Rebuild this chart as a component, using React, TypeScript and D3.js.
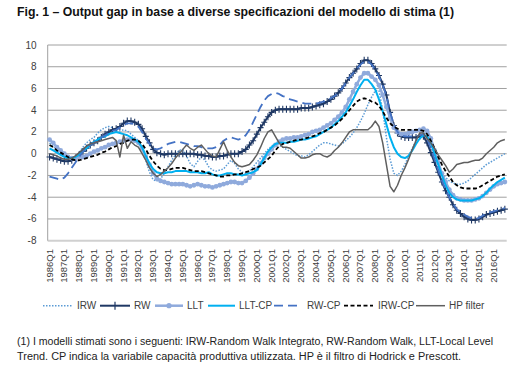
import React, { useEffect, useRef } from 'react';
import * as d3 from 'd3';

// Categories: quarterly, 1986Q1 - 2016Q4
const years = [1986, 1987, 1988, 1989, 1990, 1991, 1992, 1993, 1994, 1995, 1996, 1997, 1998, 1999, 2000, 2001,
  2002, 2003, 2004, 2005, 2006, 2007, 2008, 2009, 2010, 2011, 2012, 2013, 2014, 2015, 2016];
const quarterNames = ['Q1', 'Q2', 'Q3', 'Q4'];
const yTicks = [-8, -6, -4, -2, 0, 2, 4, 6, 8, 10];

// Series values (4 per year)
const irw = [
  1.0, 0.7, 0.3, 0.0, -0.3, -0.5, -0.5, -0.3,
  0.1, 0.6, 1.0, 1.3, 1.5, 1.9, 2.2, 2.4,
  2.5, 2.4, 2.2, 2.1, 2.2, 2.1, 1.8, 1.5,
  1.2, 0.5, -0.6, -1.7, -2.4, -2.5, -2.3, -1.8,
  -1.2, -0.6, -0.1, 0.3, 0.4, -0.2, -0.9, -1.2,
  -0.7, -0.3, -0.6, -1.2, -1.5, -1.6, -1.5, -1.4,
  -1.0, -0.6, -0.9, -1.4, -1.7, -1.8, -1.6, -1.2,
  -0.8, -0.4, 0.0, 0.4, 0.7, 0.9, 0.8, 0.6,
  0.4, 0.2, 0.0, -0.2, -0.2, -0.3, -0.1, 0.2,
  0.5, 0.8, 1.0, 1.0, 0.9, 0.8, 0.7, 0.9,
  1.2, 1.5, 1.9, 2.4, 3.0, 3.7, 4.5, 5.2,
  5.8, 5.8, 4.0, 1.5, -0.5, -1.8, -2.0, -1.6,
  -1.0, -0.2, 0.5, 1.2, 1.8, 2.0, 1.6, 0.8,
  -0.3, -1.2, -1.8, -2.2, -2.5, -2.7, -2.8, -2.8,
  -2.7, -2.5, -2.2, -1.9, -1.6, -1.3, -1.0, -0.8,
  -0.6, -0.4, -0.2, 0.0,
];
const rw = [
  -0.3, -0.4, -0.5, -0.6, -0.7, -0.7, -0.6, -0.4,
  -0.1, 0.2, 0.5, 0.8, 1.0, 1.2, 1.5, 1.8,
  2.0, 2.2, 2.3, 2.5, 2.8, 3.0, 3.0, 2.9,
  2.7, 2.3, 1.6, 1.0, 0.4, 0.1, 0.0, -0.1,
  0.0, 0.0, 0.0, 0.0, 0.0, 0.0, 0.0, 0.0,
  -0.1, -0.1, -0.2, -0.2, -0.3, -0.3, -0.2, -0.2,
  -0.1, 0.0, 0.0, 0.0, 0.2, 0.4, 0.8, 1.2,
  1.8, 2.4, 2.9, 3.4, 3.8, 4.0, 4.1, 4.1,
  4.1, 4.1, 4.1, 4.1, 4.2, 4.2, 4.2, 4.3,
  4.4, 4.5, 4.6, 4.8, 5.0, 5.3, 5.6, 6.0,
  6.5, 7.0, 7.4, 7.8, 8.3, 8.6, 8.6, 8.3,
  7.8, 7.2, 6.4, 5.4, 3.8, 2.6, 1.9, 1.6,
  1.5, 1.5, 1.5, 1.5, 1.6, 1.6, 1.0, 0.1,
  -0.8, -1.7, -2.6, -3.4, -4.0, -4.7, -5.2, -5.5,
  -5.8, -6.0, -6.1, -6.1, -6.0, -5.8, -5.6, -5.5,
  -5.4, -5.3, -5.2, -5.1,
];
const llt = [
  1.3, 1.0, 0.6, 0.3, 0.0, -0.3, -0.4, -0.4,
  -0.3, -0.3, -0.2, 0.0, 0.2, 0.3, 0.5, 0.6,
  0.8, 0.9, 1.0, 1.1, 1.2, 1.3, 1.3, 1.2,
  1.0, 0.5, -0.3, -1.0, -1.8, -2.3, -2.5, -2.6,
  -2.7, -2.8, -2.8, -2.8, -2.8, -2.9, -3.0, -2.9,
  -2.8, -2.9, -3.0, -3.0, -3.1, -3.0, -2.9, -2.8,
  -2.7, -2.6, -2.6, -2.7, -2.7, -2.5, -2.2, -1.8,
  -1.4, -0.9, -0.4, 0.0, 0.4, 0.8, 1.1, 1.3,
  1.4, 1.4, 1.5, 1.5, 1.6, 1.7, 1.8, 2.0,
  2.1, 2.2, 2.4, 2.6, 2.8, 3.1, 3.4, 3.8,
  4.3, 5.0, 5.7, 6.4, 7.0, 7.4, 7.4, 7.1,
  6.8, 6.3, 5.4, 4.3, 3.3, 2.4, 2.0, 1.8,
  1.8, 1.9, 2.0, 2.1, 2.2, 2.3, 2.1, 1.4,
  0.3, -0.8, -1.8, -2.6, -3.3, -3.8, -4.1, -4.2,
  -4.3, -4.3, -4.3, -4.2, -4.1, -3.9, -3.6, -3.3,
  -3.0, -2.8, -2.7, -2.6,
];
const lltCp = [
  0.5, 0.3, 0.1, -0.1, -0.3, -0.4, -0.4, -0.3,
  -0.1, 0.2, 0.5, 0.8, 1.1, 1.3, 1.5, 1.6,
  1.8, 1.9, 2.0, 1.9, 1.8, 1.7, 1.5, 1.3,
  1.1, 0.6, -0.2, -0.9, -1.4, -1.7, -1.8, -1.8,
  -1.7, -1.7, -1.6, -1.6, -1.6, -1.6, -1.7, -1.7,
  -1.7, -1.8, -1.8, -1.7, -1.9, -2.0, -2.0, -1.9,
  -1.8, -1.8, -1.9, -1.9, -2.0, -1.9, -1.8, -1.7,
  -1.5, -1.0, -0.4, 0.2, 0.6, 0.9, 1.0, 1.0,
  1.0, 1.1, 1.1, 1.2, 1.3, 1.3, 1.4, 1.5,
  1.6, 1.8, 2.0, 2.2, 2.4, 2.7, 3.0, 3.4,
  3.8, 4.4, 5.0, 5.7, 6.3, 6.8, 6.8, 6.4,
  5.9, 5.0, 3.9, 2.7, 1.5, 0.6, 0.0, -0.3,
  -0.4, -0.2, 0.3, 0.9, 1.4, 1.7, 1.6, 1.0,
  0.0, -1.0, -2.0, -2.9, -3.6, -4.0, -4.2, -4.3,
  -4.3, -4.3, -4.3, -4.2, -4.1, -3.9, -3.6, -3.2,
  -2.9, -2.6, -2.4, -2.2,
];
const rwCp = [
  -2.1, -2.2, -2.3, -2.4, -2.2, -1.8, -1.3, -0.8,
  -0.3, 0.2, 0.5, 0.8, 1.0, 1.2, 1.5, 1.7,
  1.9, 2.1, 2.2, 2.4, 2.6, 2.8, 2.8, 2.7,
  2.5, 2.0, 1.4, 0.9, 0.5, 0.4, 0.5, 0.7,
  0.9, 1.0, 1.1, 1.1, 1.0, 0.9, 0.8, 0.7,
  0.7, 0.6, 0.5, 0.5, 0.5, 0.6, 0.8, 1.2,
  1.4, 1.5, 1.4, 1.3, 1.4, 1.7, 2.2, 2.9,
  3.6, 4.3, 4.9, 5.3, 5.5, 5.6, 5.5, 5.3,
  5.2, 5.0, 4.9, 4.8, 4.7, 4.6, 4.6, 4.6,
  4.6, 4.7, 4.8, 4.9, 5.1, 5.3, 5.6, 6.0,
  6.5, 7.0, 7.4, 7.8, 8.2, 8.5, 8.5, 8.2,
  7.7, 7.1, 6.3, 5.3, 3.8, 2.7, 2.0, 1.7,
  1.6, 1.6, 1.6, 1.6, 1.7, 1.8, 1.4, 0.5,
  -0.5, -1.5, -2.5, -3.3, -4.0, -4.6, -5.1, -5.4,
  -5.6, -5.8, -5.9, -6.0, -5.9, -5.7, -5.5, -5.4,
  -5.3, -5.2, -5.1, -5.0,
];
const irwCp = [
  0.8, 0.6, 0.3, 0.1, -0.1, -0.3, -0.5, -0.6,
  -0.6, -0.5, -0.4, -0.3, -0.2, -0.1, 0.1, 0.2,
  0.4, 0.6, 0.7, 0.9, 1.0, 1.2, 1.3, 1.3,
  1.2, 0.9, 0.4, -0.2, -0.7, -1.1, -1.4, -1.5,
  -1.5, -1.4, -1.3, -1.3, -1.3, -1.4, -1.5, -1.6,
  -1.6, -1.6, -1.7, -1.8, -1.9, -2.0, -2.1, -2.1,
  -2.0, -2.0, -1.9, -1.9, -1.8, -1.7, -1.6, -1.4,
  -1.3, -1.1, -0.8, -0.5, -0.2, 0.3, 0.7, 0.9,
  1.0, 1.1, 1.2, 1.3, 1.3, 1.4, 1.5, 1.6,
  1.7, 1.9, 2.0, 2.2, 2.4, 2.6, 2.9, 3.2,
  3.6, 4.0, 4.4, 4.8, 5.0, 5.1, 5.0, 4.8,
  4.7, 4.4, 3.9, 3.3, 2.8, 2.5, 2.3, 2.2,
  2.2, 2.2, 2.2, 2.2, 2.2, 2.1, 1.8, 1.2,
  0.5, -0.3, -1.0, -1.6, -2.1, -2.6, -2.9, -3.1,
  -3.2, -3.2, -3.2, -3.2, -3.1, -2.9, -2.7, -2.5,
  -2.3, -2.1, -2.0, -1.9,
];
const hp = [
  0.0, -0.1, -0.2, -0.4, -0.5, -0.5, -0.4, -0.2,
  0.1, 0.4, 0.7, 0.9, 1.0, 1.1, 1.2, 1.3,
  1.4, 1.5, 1.2, -0.3, 1.7, 0.5, 1.1, 0.8,
  0.6, 0.0, -0.6, -1.3, -1.8, -2.1, -1.9, -1.6,
  -1.3, -0.9, -0.4, 0.0, 0.4, 0.8, 0.5, 0.3,
  0.6, 0.8, 0.4, 0.0, -0.2, -0.3, 0.4, 1.1,
  0.3, -0.3, -0.8, -1.1, -1.2, -1.1, -1.0, -0.6,
  -0.1, 0.6, 1.4, 2.0, 2.2, 1.6, 1.0, 0.6,
  0.6, 0.5, 0.2, -0.1, -0.4, -0.4, -0.3, -0.1,
  0.0, 0.0, -0.2, -0.3, -0.1, 0.3, 0.6, 1.0,
  1.5, 2.0, 2.2, 2.2, 2.2, 2.2, 2.2, 2.5,
  3.0, 2.5, 1.0, -1.0, -3.0, -3.5, -2.9, -2.0,
  -1.3, -0.5, 0.4, 1.2, 1.9, 1.9, 1.4, 1.0,
  0.5, -0.1, -0.6, -1.1, -1.7, -1.4, -1.0, -0.9,
  -0.8, -0.8, -0.7, -0.6, -0.6, -0.4, 0.0, 0.3,
  0.6, 1.0, 1.2, 1.3,
];

const seriesNames = ['IRW', 'RW', 'LLT', 'LLT-CP', 'RW-CP', 'IRW-CP', 'HP filter'];

const title = 'Fig. 1 \u2013 Output gap in base a diverse specificazioni del modello di stima (1)';
const noteLines = [
  '(1)  I modelli stimati sono i seguenti: IRW-Random Walk Integrato, RW-Random Walk, LLT-Local Level',
  'Trend. CP indica la variabile capacità produttiva utilizzata. HP è il filtro di Hodrick e Prescott.',
];

const App = () => {
  const ref = useRef(null);

  useEffect(() => {
    const width = 527;
    const height = 365;
    const font = '"Liberation Sans", Arial, sans-serif';

    const quarters = years.flatMap(y => quarterNames.map(q => `${y}${q}`));
    const values = [irw, rw, llt, lltCp, rwCp, irwCp, hp];

    const styles = [
      { color: '#5B9BD5', width: 1.5, dash: '1.5,1.5' },
      { color: '#1F3864', width: 2, dash: null, marker: 'plus' },
      { color: '#8FAADC', width: 2.5, dash: null, marker: 'circle' },
      { color: '#00B0F0', width: 2, dash: null },
      { color: '#4472C4', width: 1.8, dash: '9,5' },
      { color: '#000000', width: 1.8, dash: '4,2.5' },
      { color: '#5F5F5F', width: 1.5, dash: null },
    ];

    const x = d3.scaleBand().domain(quarters).range([47.7, 506.7]);
    const y = d3.scaleLinear().domain([-8, 10]).range([240.7, 45]);
    const cx = q => x(q) + x.bandwidth() / 2;

    const svg = d3.select(ref.current);
    svg.selectAll('*').remove();

    svg.append('rect').attr('width', width).attr('height', height).attr('fill', '#ffffff');

    // Title
    svg.append('text')
      .attr('x', 17).attr('y', 16)
      .attr('font-family', font).attr('font-size', 12).attr('font-weight', 'bold')
      .attr('fill', '#111')
      .attr('textLength', 437).attr('lengthAdjust', 'spacingAndGlyphs')
      .text(title);

    // Gridlines
    svg.append('g').selectAll('line')
      .data(yTicks.filter(t => t > -8))
      .enter().append('line')
      .attr('x1', 47.7).attr('x2', 506.7)
      .attr('y1', d => y(d)).attr('y2', d => y(d))
      .attr('stroke', '#a0a0a0').attr('stroke-width', 1);

    // Axis lines
    svg.append('line')
      .attr('x1', 47.7).attr('x2', 506.7).attr('y1', y(-8)).attr('y2', y(-8))
      .attr('stroke', '#d0d0d0').attr('stroke-width', 2);
    svg.append('line')
      .attr('x1', 47.7).attr('x2', 47.7).attr('y1', y(10)).attr('y2', y(-8))
      .attr('stroke', '#a0a0a0').attr('stroke-width', 1);

    // Y tick labels
    svg.append('g').selectAll('text')
      .data(yTicks)
      .enter().append('text')
      .attr('x', 36.5).attr('y', d => y(d) + 3.5)
      .attr('text-anchor', 'end')
      .attr('font-family', font).attr('font-size', 10).attr('fill', '#404040')
      .text(d => d);

    // X tick labels (Q1 only)
    svg.append('g').selectAll('text')
      .data(quarters.filter(q => q.endsWith('Q1')))
      .enter().append('text')
      .attr('transform', d => `translate(${cx(d) + 3},249) rotate(-90)`)
      .attr('text-anchor', 'end')
      .attr('font-family', font).attr('font-size', 9.5).attr('fill', '#404040')
      .text(d => d);

    // Lines
    const line = d3.line()
      .x((d, i) => cx(quarters[i]))
      .y(d => y(d));

    const plot = svg.append('g');
    values.forEach((vals, k) => {
      const s = styles[k];
      plot.append('path')
        .datum(vals)
        .attr('d', line)
        .attr('fill', 'none')
        .attr('stroke', s.color)
        .attr('stroke-width', s.width)
        .attr('stroke-dasharray', s.dash)
        .attr('stroke-linejoin', 'round');

      if (s.marker === 'circle') {
        plot.append('g').selectAll('circle')
          .data(vals)
          .enter().append('circle')
          .attr('cx', (d, i) => cx(quarters[i]))
          .attr('cy', d => y(d))
          .attr('r', 2.4)
          .attr('fill', s.color);
      }
      if (s.marker === 'plus') {
        plot.append('g').selectAll('path')
          .data(vals)
          .enter().append('path')
          .attr('d', (d, i) => {
            const px = cx(quarters[i]);
            const py = y(d);
            return `M${px},${py - 3.5}V${py + 3.5}M${px - 3},${py}H${px + 3}`;
          })
          .attr('stroke', s.color)
          .attr('stroke-width', 1.1);
      }
    });

    // Legend
    const legendY = 305.7;
    const legendPos = [
      { x1: 43, x2: 73, tx: 77 },
      { x1: 100, x2: 130, tx: 134 },
      { x1: 155, x2: 183, tx: 187 },
      { x1: 208, x2: 235, tx: 239 },
      { x1: 274, x2: 300, tx: 307 },
      { x1: 344, x2: 373, tx: 378 },
      { x1: 416, x2: 445, tx: 449 },
    ];
    const legend = svg.append('g');
    seriesNames.forEach((name, k) => {
      const s = styles[k];
      const p = legendPos[k];
      legend.append('line')
        .attr('x1', p.x1).attr('x2', p.x2).attr('y1', legendY).attr('y2', legendY)
        .attr('stroke', s.color).attr('stroke-width', s.width)
        .attr('stroke-dasharray', s.dash);
      const mx = (p.x1 + p.x2) / 2;
      if (s.marker === 'circle') {
        legend.append('circle').attr('cx', mx).attr('cy', legendY).attr('r', 2.6).attr('fill', s.color);
      }
      if (s.marker === 'plus') {
        legend.append('path')
          .attr('d', `M${mx},${legendY - 4}V${legendY + 4}`)
          .attr('stroke', s.color).attr('stroke-width', 1.2);
      }
      legend.append('text')
        .attr('x', p.tx).attr('y', legendY + 3.5)
        .attr('font-family', font).attr('font-size', 10).attr('fill', '#404040')
        .text(name);
    });

    // Footnote
    svg.append('g').selectAll('text')
      .data(noteLines)
      .enter().append('text')
      .attr('x', 17).attr('y', (d, i) => 345 + i * 15)
      .attr('font-family', font).attr('font-size', 10).attr('fill', '#222')
      .attr('textLength', (d, i) => (i === 0 ? 476 : 444))
      .attr('lengthAdjust', 'spacingAndGlyphs')
      .text(d => d);
  }, []);

  return (
    <svg ref={ref} width={527} height={365} style={{ position: 'absolute', left: 0, top: 0 }}></svg>
  );
};

export default App;
